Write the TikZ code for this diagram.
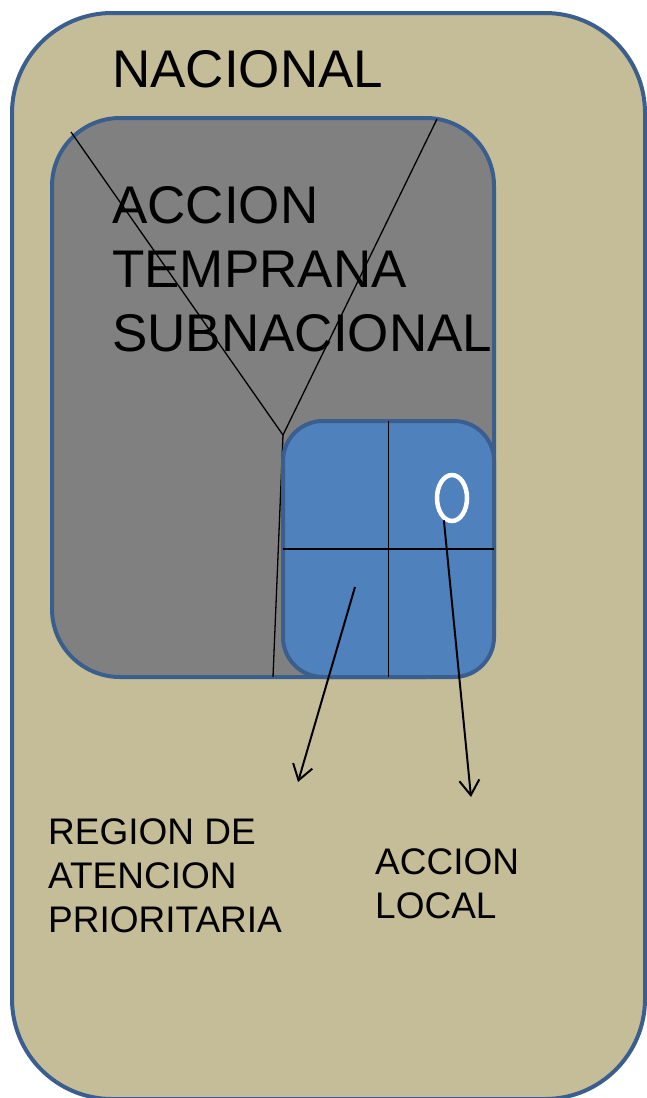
\documentclass[tikz,border=0pt]{standalone}
\usepackage{fontspec}
\setmainfont{Liberation Sans}
\usetikzlibrary{shapes.geometric,arrows.meta}
\definecolor{natfill}{HTML}{C4BD97}
\definecolor{subfill}{HTML}{808080}
\definecolor{locfill}{HTML}{4F81BD}
\definecolor{edgeblue}{HTML}{3A5F8E}
\begin{document}
\begin{tikzpicture}[x=1pt,y=-1pt,
  box/.style={draw=edgeblue, line width=4pt, rectangle, inner sep=0pt, outer sep=0pt},
  yline/.style={line width=1.3pt, black},
  crossline/.style={line width=1.6pt, black},
  pointer/.style={line width=2pt, black, -{Straight Barb[length=15pt,width=20pt]}},
  bigtext/.style={anchor=north west, inner sep=0pt, align=left, font=\fontsize{53}{64}\selectfont},
  smalltext/.style={anchor=north west, inner sep=0pt, align=left, font=\fontsize{37}{44}\selectfont}]
\useasboundingbox (0,0) rectangle (647,1098);
\node[box, fill=natfill, rounded corners=100pt, minimum width=633pt, minimum height=1086pt] (nac) at (328.5,556) {};
\node[box, fill=subfill, rounded corners=68pt, minimum width=442pt, minimum height=559pt] (sub) at (273,397.5) {};
\coordinate (yl) at (71,132);
\coordinate (yr) at (437,119);
\coordinate (yv) at (283,435);
\coordinate (ys) at (273,677);
\draw[yline] (yl) -- (yv) -- (yr);
\draw[yline] (yv) -- (ys);
\node[box, fill=locfill, rounded corners=40pt, minimum width=211pt, minimum height=256pt] (loc) at (388.5,549) {};
\draw[crossline] (loc.north) -- (loc.south);
\draw[crossline] (loc.west) -- (loc.east);
\node[ellipse, draw=white, line width=4.5pt, minimum width=30pt, minimum height=46pt, inner sep=0pt] (spot) at (452,498) {};
\coordinate (a1s) at (355,587);
\coordinate (a1e) at (298,782);
\coordinate (a2e) at (471,797);
\draw[pointer] (a1s) -- (a1e);
\draw[pointer] (spot.250) -- (a2e);
\node[anchor=north west, inner sep=0pt, font=\fontsize{53}{64}\selectfont] (tnac) at (112,50) {NACIONAL};
\node[bigtext] (tsub) at (112,186) {ACCION\\TEMPRANA\\SUBNACIONAL};
\node[smalltext] (treg) at (48,818) {REGION DE\\ATENCION\\PRIORITARIA};
\node[smalltext] (tloc) at (375,848) {ACCION\\LOCAL};
\end{tikzpicture}
\end{document}
